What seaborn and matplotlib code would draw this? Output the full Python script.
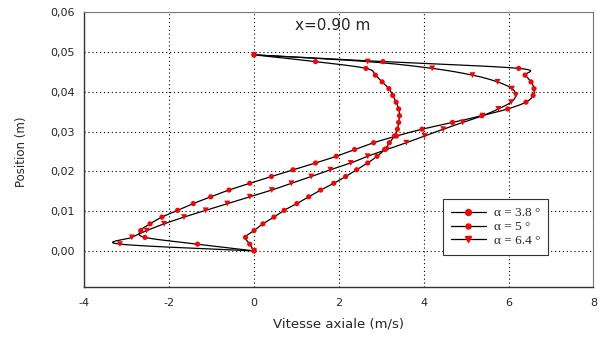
import numpy as np
import pandas as pd
import matplotlib
matplotlib.use("Agg")
import matplotlib.pyplot as plt
from matplotlib.lines import Line2D
import seaborn as sns

# ---- data ----
position = [0.0, 0.0017, 0.0034, 0.0051, 0.0068, 0.0085, 0.0102, 0.0119, 0.0136, 0.0153,
            0.0170, 0.0187, 0.0204, 0.0221, 0.0238, 0.0255, 0.0272, 0.0289, 0.0306, 0.0323,
            0.0340, 0.0357, 0.0374, 0.0391, 0.0408, 0.0425, 0.0442, 0.0459, 0.0476, 0.0493]

v_38 = [0.0, -1.33, -2.57, -2.67, -2.45, -2.17, -1.80, -1.43, -1.02, -0.59,
        -0.10, 0.41, 0.92, 1.45, 1.94, 2.37, 2.82, 3.36, 3.96, 4.68,
        5.37, 5.98, 6.41, 6.58, 6.60, 6.53, 6.39, 6.24, 3.04, 0.0]

v_5 = [0.0, -0.10, -0.20, 0.0, 0.21, 0.47, 0.71, 1.01, 1.29, 1.57,
       1.88, 2.16, 2.42, 2.68, 2.90, 3.08, 3.19, 3.31, 3.38, 3.41,
       3.43, 3.41, 3.35, 3.27, 3.18, 3.02, 2.86, 2.64, 1.45, 0.0]

v_64 = [0.0, -3.16, -2.88, -2.53, -2.12, -1.65, -1.14, -0.63, -0.10, 0.42,
        0.88, 1.35, 1.80, 2.28, 2.68, 3.13, 3.59, 4.02, 4.46, 4.92,
        5.39, 5.76, 6.06, 6.17, 6.08, 5.74, 5.15, 4.20, 2.68, 0.0]

labels = ["\u03b1 = 3.8 \u00b0", "\u03b1 = 5 \u00b0", "\u03b1 = 6.4 \u00b0"]
markers = ["o", "o", "v"]
x_ticks = [-4, -2, 0, 2, 4, 6, 8]
y_ticks = [0.00, 0.01, 0.02, 0.03, 0.04, 0.05, 0.06]
y_tick_labels = ["0,00", "0,01", "0,02", "0,03", "0,04", "0,05", "0,06"]


def smooth(xs, ys, n=20):
    """Uniform Catmull-Rom rendering of the connecting line (like a smoothed line)."""
    P = np.column_stack([xs, ys]).astype(float)
    P = np.vstack([P[0], P, P[-1]])
    out = []
    t = np.linspace(0, 1, n, endpoint=False)
    for i in range(1, len(P) - 2):
        p0, p1, p2, p3 = P[i - 1], P[i], P[i + 1], P[i + 2]
        m1 = (p2 - p0) / 2
        m2 = (p3 - p1) / 2
        h00 = 2 * t**3 - 3 * t**2 + 1
        h10 = t**3 - 2 * t**2 + t
        h01 = -2 * t**3 + 3 * t**2
        h11 = t**3 - t**2
        seg = (h00[:, None] * p1 + h10[:, None] * m1 + h01[:, None] * p2 + h11[:, None] * m2)
        out.append(seg)
    out.append(P[-2][None, :])
    return np.vstack(out)


sns.set_style("white")
plt.rcParams["font.family"] = ["DejaVu Sans"]

fig = plt.figure(figsize=(6.0, 3.37), dpi=100)
ax = fig.add_axes([0.1405, 0.1493, 0.8485, 0.8142])

series = [v_38, v_5, v_64]
for vals, lab, mk in zip(series, labels, markers):
    curve = smooth(vals, position)
    dline = pd.DataFrame({"v": curve[:, 0], "p": curve[:, 1]})
    sns.lineplot(data=dline, x="v", y="p", sort=False, estimator=None,
                 color="black", lw=0.9, ax=ax, zorder=2)
    dpts = pd.DataFrame({"v": vals, "p": position})
    ms = 14 if mk == "o" else 18
    sns.scatterplot(data=dpts, x="v", y="p", marker=mk, color="#ff0000",
                    s=ms, edgecolor="none", linewidth=0, ax=ax, zorder=3)

ax.set_xlim(-4, 8)
ax.set_ylim(-0.009, 0.06)
ax.set_xticks(x_ticks)
ax.set_xticklabels([str(v) for v in x_ticks])
ax.set_yticks(y_ticks)
ax.set_yticklabels(y_tick_labels)
ax.tick_params(axis="both", which="major", labelsize=8, direction="out",
               length=3, width=0.8, color="black")
ax.tick_params(axis="x", pad=5)
ax.tick_params(axis="y", pad=4)
ax.grid(True, color="black", linestyle=(0, (1, 2.5)), linewidth=0.8)

for side in ["left", "bottom"]:
    ax.spines[side].set_color("#333333")
    ax.spines[side].set_linewidth(1.0)
for side in ["top", "right"]:
    ax.spines[side].set_color("#777777")
    ax.spines[side].set_linewidth(0.8)

ax.set_xlabel("Vitesse axiale (m/s)", fontsize=9.5, labelpad=7)
ax.set_ylabel("")
fig.text(21 / 600, 1 - 152 / 337, "Position (m)", rotation=90, fontsize=8.5,
         ha="center", va="center")

ax.text(0.96, 0.0567, "x=0.90 m", fontsize=11, ha="left", va="center")

handles = [Line2D([0], [0], color="black", lw=0.9, marker=mk,
                  markersize=4.2 if i == 0 else (3.6 if i == 1 else 4.8),
                  markerfacecolor="#ff0000", markeredgecolor="#ff0000")
           for i, mk in enumerate(markers)]
leg = ax.legend(handles, labels, loc="upper left", bbox_to_anchor=(0.7053, 0.3185),
                borderaxespad=0, frameon=True, fancybox=False, edgecolor="#333333",
                framealpha=1, prop={"family": "Liberation Serif", "size": 9.5},
                handlelength=2.6, borderpad=0.6, labelspacing=0.12, handletextpad=0.6)
leg.get_frame().set_linewidth(0.8)

fig.savefig("out.png", dpi=100)
